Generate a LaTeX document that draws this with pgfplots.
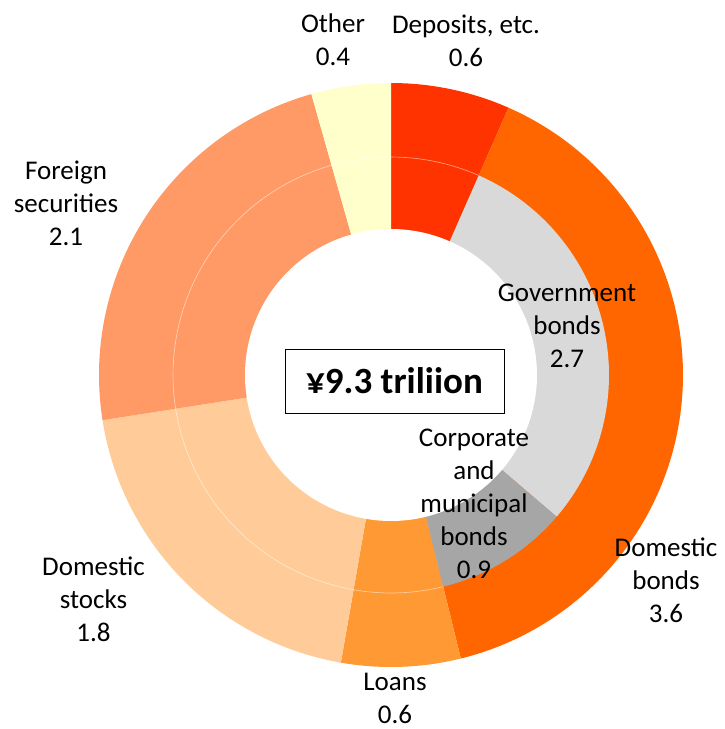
\documentclass[border=0pt]{standalone}
\usepackage{pgfplots}
\pgfplotsset{compat=1.18}
\usepackage{fontspec}
\setmainfont{Carlito}
\definecolor{cDep}{HTML}{FF3300}
\definecolor{cBond}{HTML}{FF6600}
\definecolor{cGov}{HTML}{D9D9D9}
\definecolor{cCorp}{HTML}{A6A6A6}
\definecolor{cLoan}{HTML}{FF9933}
\definecolor{cStock}{HTML}{FFCC99}
\definecolor{cFor}{HTML}{FF9966}
\definecolor{cOth}{HTML}{FFFFCC}
% total of the shares (trillion yen)
\def\T{9.1}
\def\cx{391}
\def\cy{375}
% wedge: colour, cumulative start, value, radius
\newcommand{\wedgeplot}[4]{%
  \pgfmathsetmacro\wa{360*#2/\T}%
  \pgfmathsetmacro\wb{360*(#2+#3)/\T}%
  \addplot[fill=#1, draw=none, domain=\wa:\wb, samples=90]
    ({\cx+#4*sin(x)},{\cy-#4*cos(x)}) -- (\cx,\cy) -- cycle;
}
\tikzset{lbl/.style={font=\fontsize{27}{33}\selectfont, align=center, text=black, inner sep=0pt}}
\begin{document}
\begin{tikzpicture}
\begin{axis}[
  width=724pt, height=729pt, scale only axis,
  xmin=0, xmax=724, ymin=0, ymax=729, y dir=reverse,
  hide axis, clip=false,
]
\path (0,0) rectangle (724,729);
% outer ring (radius 292)
\wedgeplot{cDep}{0}{0.6}{292}
\wedgeplot{cBond}{0.6}{3.6}{292}
\wedgeplot{cLoan}{4.2}{0.6}{292}
\wedgeplot{cStock}{4.8}{1.8}{292}
\wedgeplot{cFor}{6.6}{2.1}{292}
\wedgeplot{cOth}{8.7}{0.4}{292}
% inner ring breakdown of domestic bonds (radius 218)
\wedgeplot{cGov}{0.6}{2.7}{218}
\wedgeplot{cCorp}{3.3}{0.9}{218}
% faint ring boundary
\addplot[draw=white, draw opacity=0.5, line width=0.7pt, domain=166.2:383.7, samples=120]
  ({\cx+218*sin(x)},{\cy-218*cos(x)});
% hole
\addplot[fill=white, draw=none, domain=0:360, samples=240]
  ({\cx+146*sin(x)},{\cy-146*cos(x)}) -- cycle;
% labels
\node[lbl] at (333,40) {Other\\0.4};
\node[lbl] at (466,41) {Deposits, etc.\\0.6};
\node[lbl] at (66,203) {Foreign\\securities\\2.1};
\node[lbl] at (567,326) {Government\\bonds\\2.7};
\node[lbl] at (474,504) {Corporate\\and\\municipal\\bonds\\0.9};
\node[lbl] at (666,580) {Domestic\\bonds\\3.6};
\node[lbl] at (93.5,599) {Domestic\\stocks\\1.8};
\node[lbl] at (395,698) {Loans\\0.6};
\node[draw=black, line width=1pt, minimum width=219pt, minimum height=64pt, inner sep=0pt,
  font=\bfseries\fontsize{37}{44}\selectfont] at (394.5,381) {¥9.3 triliion};
\end{axis}
\end{tikzpicture}
\end{document}
